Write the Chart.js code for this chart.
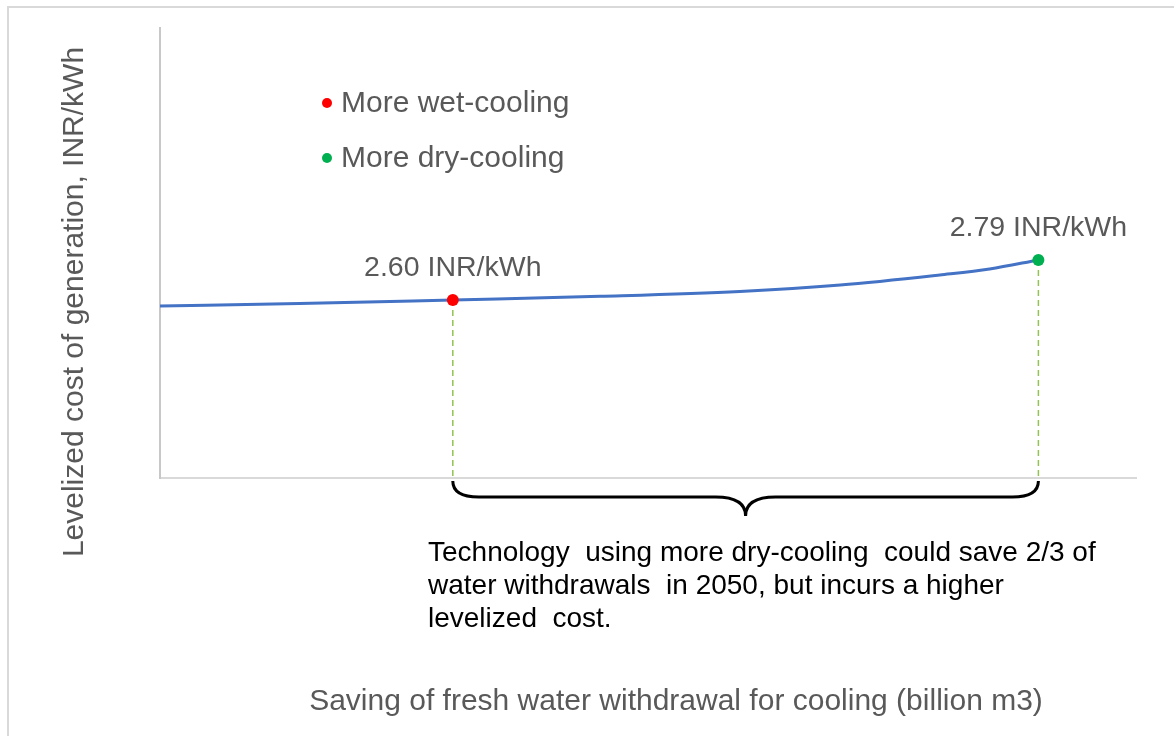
<!DOCTYPE html>
<html lang="en">
<head>
    <meta charset="UTF-8">
    <title>Levelized cost vs water saving</title>
    <script src="https://cdn.jsdelivr.net/npm/chart.js"></script>
    <style>
        body {
            margin: 0;
            background: #ffffff;
        }
        #wrap {
            width: 1174px;
            height: 736px;
        }
    </style>
</head>
<body>
    <div id="wrap">
        <canvas id="costChart" width="1174" height="736"></canvas>
    </div>

    <script>
        // cost curve (x in arbitrary saving units 0..100)
        const savingX = [0, 14.3, 30, 45.1, 59.4, 69.7, 79.9, 85.0, 90];
        const costY = [2.571, 2.583, 2.60, 2.617, 2.640, 2.671, 2.719, 2.747, 2.79];

        const markerNames = ['More wet-cooling', 'More dry-cooling'];
        const markerX = [30, 90];
        const markerY = [2.60, 2.79];
        const markerColors = ['#FF0000', '#00B050'];
        const markerText = ['2.60 INR/kWh', '2.79 INR/kWh'];

        const xTitle = 'Saving of fresh water withdrawal for cooling (billion m3)';
        const yTitle = 'Levelized cost of generation, INR/kWh';
        const note = [
            'Technology  using more dry-cooling  could save 2/3 of',
            'water withdrawals  in 2050, but incurs a higher',
            'levelized  cost.'
        ];

        const yMin = 1.754, yMax = 3.892;
        const FONT = "'Liberation Sans', Arial, sans-serif";

        const curve = savingX.map((x, i) => ({ x: x, y: costY[i] }));

        const datasets = [];
        markerNames.forEach((name, i) => {
            datasets.push({
                label: name,
                data: [{ x: markerX[i], y: markerY[i] }],
                showLine: false,
                pointRadius: 6,
                pointBackgroundColor: markerColors[i],
                pointBorderColor: markerColors[i],
                pointBorderWidth: 0,
                order: 0
            });
        });
        datasets.push({
            label: 'cost',
            data: curve,
            borderColor: '#4472C4',
            borderWidth: 3,
            pointRadius: 0,
            cubicInterpolationMode: 'monotone',
            order: 2
        });
        markerX.forEach((x, i) => {
            datasets.push({
                label: 'drop' + i,
                data: [{ x: x, y: markerY[i] }, { x: x, y: yMin }],
                borderColor: '#92C353',
                borderWidth: 1.5,
                borderDash: [6, 4],
                pointRadius: 0,
                order: 3
            });
        });

        const decorations = {
            id: 'decorations',
            beforeDraw(chart) {
                const c = chart.ctx;
                c.save();
                c.strokeStyle = '#d9d9d9';
                c.lineWidth = 2;
                c.strokeRect(8, 7, 1300, 900);
                c.restore();
            },
            afterDraw(chart) {
                const c = chart.ctx;
                const xs = chart.scales.x, ys = chart.scales.y;
                const area = chart.chartArea;
                c.save();

                // value labels above the markers
                c.fillStyle = '#595959';
                c.font = '28.5px ' + FONT;
                c.textAlign = 'center';
                c.textBaseline = 'alphabetic';
                markerText.forEach((t, i) => {
                    const px = xs.getPixelForValue(markerX[i]);
                    const py = ys.getPixelForValue(markerY[i]);
                    c.fillText(t, px, py - 24);
                });

                // legend
                c.font = '30px ' + FONT;
                c.textAlign = 'left';
                c.textBaseline = 'middle';
                markerNames.forEach((name, i) => {
                    const ly = 103 + i * 55;
                    c.beginPath();
                    c.fillStyle = markerColors[i];
                    c.arc(327, ly, 5, 0, Math.PI * 2);
                    c.fill();
                    c.fillStyle = '#595959';
                    c.fillText(name, 341, ly + 1);
                });

                // brace under the axis between the two markers
                const x0 = xs.getPixelForValue(markerX[0]);
                const x1 = xs.getPixelForValue(markerX[1]);
                const xm = (x0 + x1) / 2;
                const top = area.bottom + 3, mid = area.bottom + 19, tip = area.bottom + 38;
                c.strokeStyle = '#000000';
                c.lineWidth = 3;
                c.beginPath();
                c.moveTo(x0, top);
                c.quadraticCurveTo(x0, mid, x0 + 26, mid);
                c.lineTo(xm - 30, mid);
                c.quadraticCurveTo(xm, mid, xm, tip);
                c.quadraticCurveTo(xm, mid, xm + 30, mid);
                c.lineTo(x1 - 26, mid);
                c.quadraticCurveTo(x1, mid, x1, top);
                c.stroke();

                // note under the brace
                c.fillStyle = '#000000';
                c.font = '28px ' + FONT;
                c.textBaseline = 'alphabetic';
                note.forEach((line, i) => c.fillText(line, 428, 561 + i * 33));

                // axis titles
                c.fillStyle = '#595959';
                c.font = '30px ' + FONT;
                c.textAlign = 'center';
                c.fillText(xTitle, 676, 710);
                c.font = '30px ' + FONT;
                c.translate(83, 302);
                c.rotate(-Math.PI / 2);
                c.fillText(yTitle, 0, 0);
                c.restore();
            }
        };

        new Chart(document.getElementById('costChart'), {
            type: 'line',
            data: { datasets: datasets },
            options: {
                responsive: false,
                animation: false,
                layout: { padding: { left: 160, top: 28, right: 38, bottom: 258 } },
                plugins: {
                    legend: { display: false },
                    tooltip: { enabled: false }
                },
                scales: {
                    x: {
                        type: 'linear',
                        min: 0,
                        max: 100,
                        ticks: { display: false },
                        grid: { display: false, drawTicks: false },
                        border: { display: true, color: '#d9d9d9', width: 2 }
                    },
                    y: {
                        min: yMin,
                        max: yMax,
                        ticks: { display: false },
                        grid: { display: false, drawTicks: false },
                        border: { display: true, color: '#c8c8c8', width: 2 }
                    }
                }
            },
            plugins: [decorations]
        });
    </script>
</body>
</html>
